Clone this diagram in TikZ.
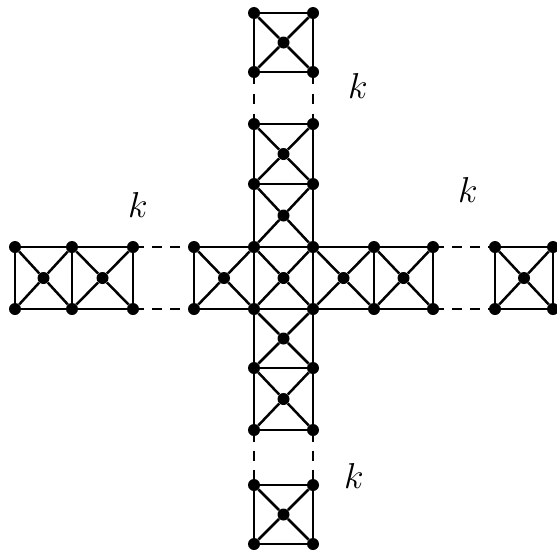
\RequirePackage{fix-cm}
\documentclass[tikz,border=0pt]{standalone}
\usetikzlibrary{calc}
\begin{document}
\begin{tikzpicture}[x=1pt,y=-1pt,
  vtx/.style={circle,fill=black,inner sep=0pt,minimum size=12pt},
  edge/.style={line width=2.5pt},
  dashh/.style={line width=2.5pt,dash pattern=on 10pt off 8pt,dash phase=5pt},
  dashtop/.style={line width=2.5pt,dash pattern=on 10pt off 10pt,dash phase=4.5pt},
  dashbot/.style={line width=2.5pt,dash pattern=on 10pt off 9pt,dash phase=4.5pt},
  lbl/.style={font=\fontsize{36}{42}\selectfont,inner sep=0pt}]
\path[fill=white,use as bounding box] (0,0) rectangle (557,552);
% row vertices
\foreach \i/\x in {0/15,1/72,2/133,3/194,6/374,7/433,8/495,9/553}{
  \node[vtx] (r\i-t) at (\x,247) {};
  \node[vtx] (r\i-b) at (\x,309) {};
}
\node[vtx,alias=c4-l] (r4-t) at (254,247) {};
\node[vtx,alias=c4-r] (r5-t) at (313,247) {};
\node[vtx,alias=c5-l] (r4-b) at (254,309) {};
\node[vtx,alias=c5-r] (r5-b) at (313,309) {};
% column vertices
\foreach \j/\y in {0/13,1/72,2/124,3/184,6/368,7/430,8/485,9/544}{
  \node[vtx] (c\j-l) at (254,\y) {};
  \node[vtx] (c\j-r) at (313,\y) {};
}
% row squares
\foreach \a/\b in {0/1,1/2,3/4,4/5,5/6,6/7,8/9}{
  \node[vtx] (rm\a) at ($(r\a-t)!0.5!(r\b-b)$) {};
  \draw[edge] (r\a-t)--(r\b-t) (r\b-t)--(r\b-b) (r\b-b)--(r\a-b) (r\a-b)--(r\a-t);
  \draw[edge] (r\a-t)--(rm\a) (rm\a)--(r\b-b) (r\b-t)--(rm\a) (rm\a)--(r\a-b);
}
% column squares
\foreach \a/\b in {0/1,2/3,3/4,5/6,6/7,8/9}{
  \node[vtx] (cm\a) at ($(c\a-l)!0.5!(c\b-r)$) {};
  \draw[edge] (c\a-l)--(c\a-r) (c\a-r)--(c\b-r) (c\b-r)--(c\b-l) (c\b-l)--(c\a-l);
  \draw[edge] (c\a-l)--(cm\a) (cm\a)--(c\b-r) (c\a-r)--(cm\a) (cm\a)--(c\b-l);
}
% dashed links
\draw[dashh] (r2-t)--(r3-t);
\draw[dashh] (r2-b)--(r3-b);
\draw[dashh] (r7-t)--(r8-t);
\draw[dashh] (r7-b)--(r8-b);
\draw[dashtop] (c1-l)--(c2-l);
\draw[dashtop] (c1-r)--(c2-r);
\draw[dashbot] (c7-l)--(c8-l);
\draw[dashbot] (c7-r)--(c8-r);
% labels
\node[lbl] (k1) at (358,86) {$k$};
\node[lbl] (k2) at (138,205) {$k$};
\node[lbl] (k3) at (468,190) {$k$};
\node[lbl] (k4) at (354,476) {$k$};
\end{tikzpicture}
\end{document}
